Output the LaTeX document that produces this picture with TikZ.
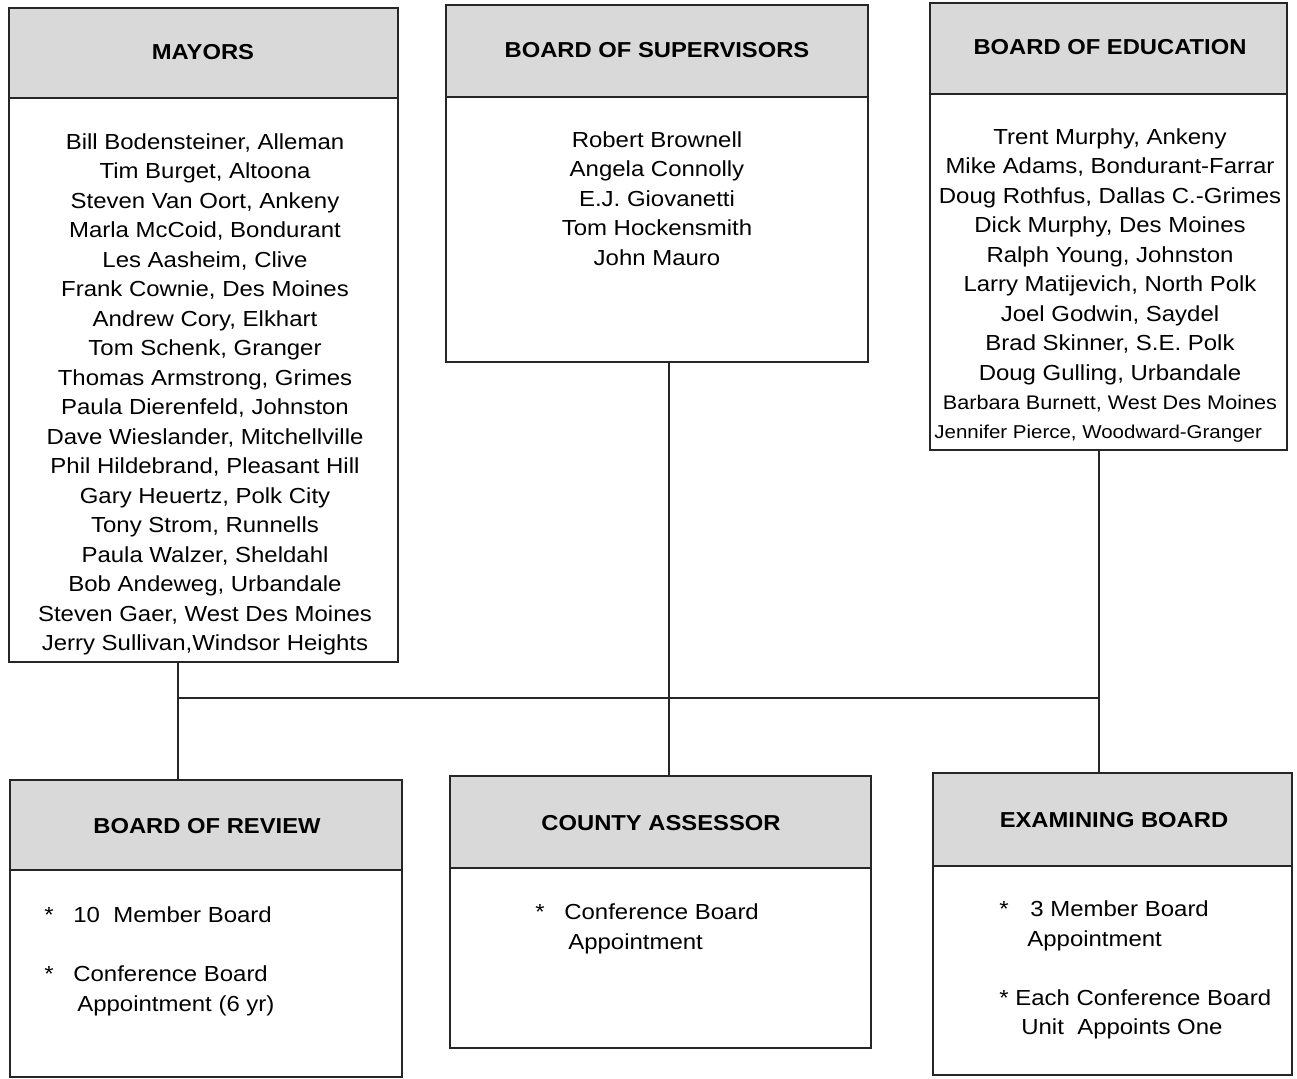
\documentclass[tikz,border=0pt]{standalone}
\usepackage{fontspec}
\setmainfont{Liberation Sans}[FakeStretch=1.1]
\usetikzlibrary{fit}
\begin{document}
\begin{tikzpicture}[x=0.02cm,y=-0.02cm,
  box/.style={draw=black!85, line width=1.6pt, inner sep=0pt},
  head/.style={draw=black!85, line width=1.6pt, inner sep=0pt, fill=black!15},
  htext/.style={inner sep=0pt, font=\fontsize{12.3}{15}\selectfont\bfseries},
  body/.style={inner sep=0pt, align=center, anchor=north,
    font=\fontsize{12.4}{16.8}\selectfont},
  item/.style={inner sep=0pt, anchor=base west, font=\fontsize{12.4}{16.8}\selectfont},
  conn/.style={draw=black!85, line width=1.2pt}]
\useasboundingbox (0,0) rectangle (1297,1078);
% top boxes
\node[box, fit={(9,8) (398,662)}] (mayors) {};
\node[head, fit={(9,8) (398,98)}] (mayorsH) {};
\node[htext] (mayorsT) at (203,52) {MAYORS};
\node[body] (mayorsL) at (205,133) {Bill Bodensteiner, Alleman\\Tim Burget, Altoona\\Steven Van Oort, Ankeny\\Marla McCoid, Bondurant\\Les Aasheim, Clive\\Frank Cownie, Des Moines\\Andrew Cory, Elkhart\\Tom Schenk, Granger\\Thomas Armstrong, Grimes\\Paula Dierenfeld, Johnston\\Dave Wieslander, Mitchellville\\Phil Hildebrand, Pleasant Hill\\Gary Heuertz, Polk City\\Tony Strom, Runnells\\Paula Walzer, Sheldahl\\Bob Andeweg, Urbandale\\Steven Gaer, West Des Moines\\Jerry Sullivan,Windsor Heights};

\node[box, fit={(446,5) (868,362)}] (sup) {};
\node[head, fit={(446,5) (868,97)}] (supH) {};
\node[htext] (supT) at (657,50) {BOARD OF SUPERVISORS};
\node[body] (supL) at (657,131) {Robert Brownell\\Angela Connolly\\E.J. Giovanetti\\Tom Hockensmith\\John Mauro};

\node[box, fit={(930,3) (1287,450)}] (edu) {};
\node[head, fit={(930,3) (1287,94)}] (eduH) {};
\node[htext] (eduT) at (1110,47) {BOARD OF EDUCATION};
\node[body] (eduL) at (1110,128) {Trent Murphy, Ankeny\\Mike Adams, Bondurant-Farrar\\Doug Rothfus, Dallas C.-Grimes\\Dick Murphy, Des Moines\\Ralph Young, Johnston\\Larry Matijevich, North Polk\\Joel Godwin, Saydel\\Brad Skinner, S.E. Polk\\Doug Gulling, Urbandale\\{\fontsize{11.2}{16.8}\selectfont Barbara Burnett, West Des Moines}};
\node[item, font=\fontsize{10.6}{16.8}\selectfont] (eduL2) at (934,438) {Jennifer Pierce, Woodward-Granger};

% bottom boxes
\node[box, fit={(10,780) (402,1077)}] (rev) {};
\node[head, fit={(10,780) (402,870)}] (revH) {};
\node[htext] (revT) at (207,826) {BOARD OF REVIEW};
\node[item] (r1s) at (44,922) {*};
\node[item] (r1) at (73,922) {10\ \ Member Board};
\node[item] (r2s) at (44,981) {*};
\node[item] (r2) at (73,981) {Conference Board};
\node[item] (r3) at (77,1011) {Appointment (6 yr)};

\node[box, fit={(450,776) (871,1048)}] (ass) {};
\node[head, fit={(450,776) (871,868)}] (assH) {};
\node[htext] (assT) at (661,823) {COUNTY ASSESSOR};
\node[item] (a1s) at (535,919) {*};
\node[item] (a1) at (564,919) {Conference Board};
\node[item] (a2) at (568,949) {Appointment};

\node[box, fit={(933,773) (1292,1075)}] (exa) {};
\node[head, fit={(933,773) (1292,866)}] (exaH) {};
\node[htext] (exaT) at (1114,820) {EXAMINING BOARD};
\node[item] (e1s) at (999,916) {*};
\node[item] (e1) at (1030,916) {3 Member Board};
\node[item] (e2) at (1027,946) {Appointment};
\node[item] (e3) at (999,1005) {* Each Conference Board};
\node[item] (e4) at (1021,1034) {Unit\ \ Appoints One};

% connectors
\coordinate (jL) at (178,698);
\coordinate (jM) at (669,698);
\coordinate (jR) at (1099,698);
\draw[conn] (mayors.south -| jL) -- (revH.north -| jL);
\draw[conn] (sup.south -| jM) -- (assH.north -| jM);
\draw[conn] (edu.south -| jR) -- (exaH.north -| jR);
\draw[conn] (jL) -- (jR);
\end{tikzpicture}
\end{document}
